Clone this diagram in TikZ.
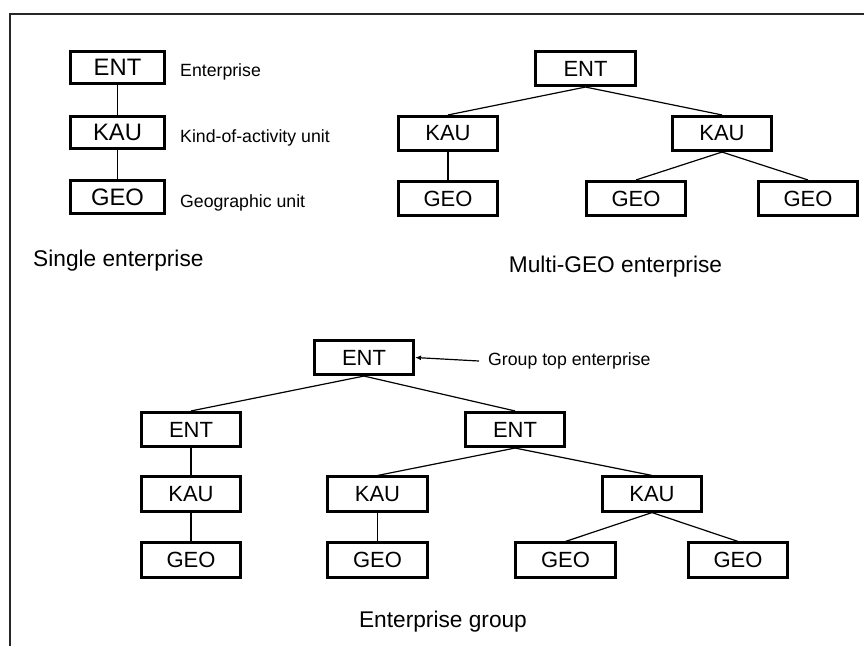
\documentclass[tikz,border=0pt]{standalone}
\usepackage{fontspec}
\setmainfont{Liberation Sans}
\usetikzlibrary{arrows.meta}
\tikzset{
  unitbox/.style={draw, line width=2.6pt, minimum width=99.5pt, minimum height=34.5pt, inner sep=0pt, font=\fontsize{22}{26}\selectfont},
  smallbox/.style={unitbox, minimum width=94pt, minimum height=32.5pt, font=\fontsize{23.8}{28}\selectfont},
  link/.style={line width=1.2pt},
  sidelabel/.style={anchor=base west, inner sep=0pt, font=\fontsize{17.7}{20}\selectfont},
  caption/.style={anchor=base, inner sep=0pt, font=\fontsize{22.7}{26}\selectfont},
  frameline/.style={line width=1.1pt, draw=black!85}
}
\begin{document}
\begin{tikzpicture}[x=1pt,y=-1pt]
\useasboundingbox (0,0) rectangle (864,646);
% frame
\coordinate (fr) at (864,14);
\coordinate (fc) at (10,14);
\coordinate (fb) at (10,646);
\draw[frameline] (fr) -- (fc) -- (fb);

% Single enterprise
\node[smallbox] (s1) at (117.5,67.5) {ENT};
\node[smallbox] (s2) at (117.5,132.5) {KAU};
\node[smallbox] (s3) at (117.5,197) {GEO};
\draw[link] (s1.south) -- (s2.north);
\draw[link] (s2.south) -- (s3.north);
\node[sidelabel] (l1) at (180,76.5) {Enterprise};
\node[sidelabel] (l2) at (180,142) {Kind-of-activity unit};
\node[sidelabel] (l3) at (180,207.5) {Geographic unit};
\node[caption, anchor=base west] (c1) at (33,266.5) {Single enterprise};

% Multi-GEO enterprise
\node[unitbox] (m0) at (585.5,68.5) {ENT};
\node[unitbox] (m1) at (448,133.5) {KAU};
\node[unitbox] (m2) at (722,133.5) {KAU};
\node[unitbox] (m3) at (448,198.5) {GEO};
\node[unitbox] (m4) at (636,198.5) {GEO};
\node[unitbox] (m5) at (808,198.5) {GEO};
\draw[link] (m0.south) -- (m1.north);
\draw[link] (m0.south) -- (m2.north);
\draw[link] (m1.south) -- (m3.north);
\draw[link] (m2.south) -- (m4.north);
\draw[link] (m2.south) -- (m5.north);
\node[caption] (c2) at (615.5,272) {Multi-GEO enterprise};

% Enterprise group
\node[unitbox] (g0) at (364,357.5) {ENT};
\node[unitbox] (g1) at (191,429.5) {ENT};
\node[unitbox] (g2) at (515,429.5) {ENT};
\node[unitbox] (g3) at (191,494) {KAU};
\node[unitbox] (g4) at (377.5,494) {KAU};
\node[unitbox] (g5) at (652,494) {KAU};
\node[unitbox] (g6) at (191,560) {GEO};
\node[unitbox] (g7) at (377.5,560) {GEO};
\node[unitbox] (g8) at (565.5,560) {GEO};
\node[unitbox] (g9) at (738,560) {GEO};
\draw[link] (g0.south) -- (g1.north);
\draw[link] (g0.south) -- (g2.north);
\draw[link] (g1.south) -- (g3.north);
\draw[link] (g3.south) -- (g6.north);
\draw[link] (g2.south) -- (g4.north);
\draw[link] (g2.south) -- (g5.north);
\draw[link] (g4.south) -- (g7.north);
\draw[link] (g5.south) -- (g8.north);
\draw[link] (g5.south) -- (g9.north);
\node[sidelabel, anchor=west] (gl) at (488,361) {Group top enterprise};
\coordinate (ga) at (479,361);
\draw[link, -{Latex[length=6pt,width=5pt]}] (ga) -- (g0.east);
\node[caption] (c3) at (443,627) {Enterprise group};
\end{tikzpicture}
\end{document}
